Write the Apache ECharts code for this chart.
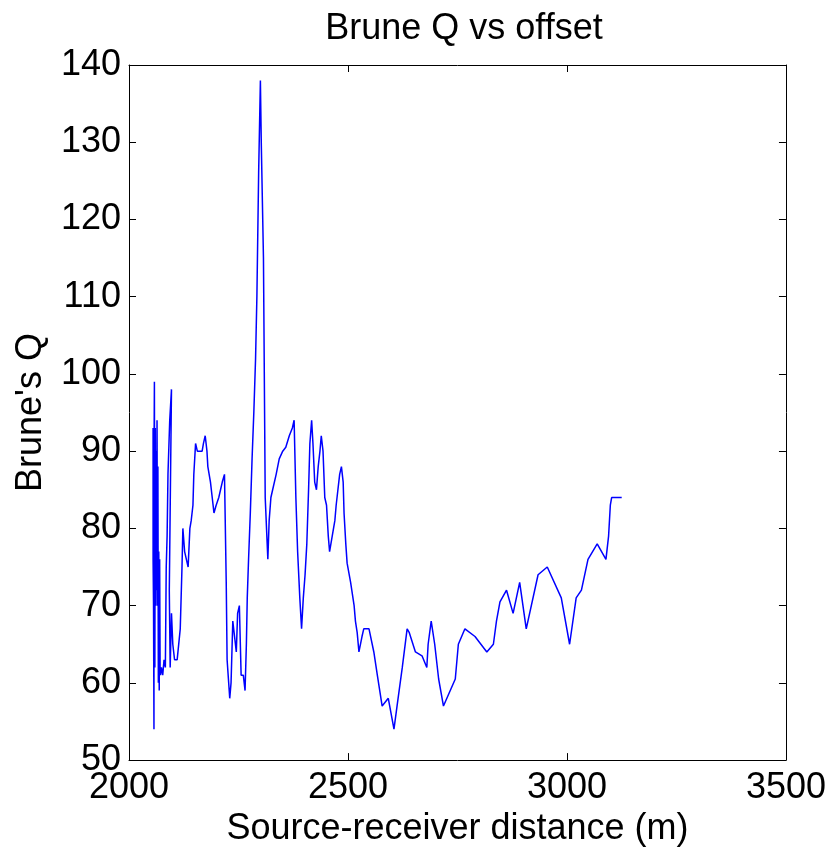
<!DOCTYPE html>
<html>
<head>
<meta charset="utf-8">
<script src="https://cdn.jsdelivr.net/npm/echarts@6/dist/echarts.min.js"></script>
<style>
html,body{margin:0;padding:0;background:#fff;}
#chart{width:829px;height:852px;}
</style>
</head>
<body>
<div id="chart"></div>
<script>
// Source-receiver distance (m), in drawing order
const offsets = [2055,2055,2056,2057,2057,2058,2059,2060,2061,2062,2063,2064,2065,2066,2067,2068,2069,2070,2071,2072,2074,2077,2080,2083,2085,2087,2089,2093,2097,2101,
  2092,2094,2097,2100,2104,2110,2117,2121,2123,2127,2131,2135,2139,2142,2146,2148,2152,2156,2160,2167,2170,2174,2178,2180,2186,2190,2194,2199,2205,2209,2213,2218,
  2222,2224,2230,2233,2237,2241,2245,2248,2252,2256,2261,2265,2268,2270,2273,2277,2281,2285,2289,2292,2296,2300,2302,2304,2307,2311,2317,2320,2324,2328,2336,2343,2351,2358,2366,2373,2377,
  2381,2385,2390,2394,2398,2402,2406,2410,2413,2417,2420,2424,2428,2432,2436,2439,2443,2447,2451,2455,2458,2464,2470,2473,2477,2481,2485,2489,2491,2495,2498,
  2506,2514,2517,2521,2525,2532,2536,2548,2559,2567,2578,2592,2605,2612,2624,2635,2640,2654,2669,2680,2683,2690,2698,2707,2718,2745,2752,2767,2771,2790,2817,
  2832,2839,2847,2862,2877,2892,2907,2934,2955,2987,3006,3021,3033,3048,3069,3089,3095,3099,3102,3125];
// Brune's Q
const qValues = [93,76,70,54,88,99,62,93,70,90,72,94,70,88,60,77,59,76,62,61,62,61,63,62,75,79,87,94,98,98,
  72,62,69,65,63,63,67,75,80,77,76,75,80,81,83,87,91,90,90,90,91,92,90,88,86,84,82,83,84,85,86,87,
  73,63,58,60,68,66,64,69,70,61,61,59,65,71,76,82,89,95,102,110,126,138,130,130,115,84,76,81,84,85,87,89,90,90.5,92,93,94,
  84,77,71,67,71,74,78,85,91,94,91,86,85,88,90,92,90,84,83,79,77,79,81,83,85,87,88,86,82,78,75.5,
  73,70,68,66.5,64,66,67,67,64,61,57,58,54,57,62,67,66.5,64,63.5,62,65,68,65,60.5,57,60.5,65,67,67,66,64,
  65,68,70.5,72,69,73,67,74,75,71,65,71,72,76,78,76,79,83,84,84];
const xTicks = [2000, 2500, 3000, 3500];
const yTicks = [50, 60, 70, 80, 90, 100, 110, 120, 130, 140];

const pts = offsets.map((x, i) => [x, qValues[i]]);
const FONT = 'Liberation Sans, Arial, Helvetica, sans-serif';
const chart = echarts.init(document.getElementById('chart'), null, {renderer: 'canvas'});
const axisCommon = {
  axisLine: {show: true, onZero: false, lineStyle: {color: '#000', width: 1}},
  axisTick: {show: true, inside: true, length: 7, lineStyle: {color: '#000', width: 1}},
  splitLine: {show: false}
};
chart.setOption({
  animation: false,
  backgroundColor: '#fff',
  title: {
    text: 'Brune Q vs offset', left: 459, textAlign: 'center', top: 6,
    textStyle: {fontFamily: FONT, fontSize: 36, fontWeight: 'normal', color: '#000'}
  },
  grid: {left: 129, right: 40, top: 65, bottom: 87, containLabel: false},
  xAxis: [
    Object.assign({
      type: 'value', min: xTicks[0], max: xTicks[xTicks.length - 1], interval: 500,
      name: 'Source-receiver distance (m)', nameLocation: 'middle', nameGap: 50,
      nameTextStyle: {fontFamily: FONT, fontSize: 36, color: '#000'},
      axisLabel: {fontFamily: FONT, fontSize: 36, color: '#000', margin: 10, formatter: v => String(v)}
    }, axisCommon),
    Object.assign({
      type: 'value', position: 'top', min: xTicks[0], max: xTicks[xTicks.length - 1], interval: 500,
      axisLabel: {show: false}
    }, axisCommon)
  ],
  yAxis: [
    Object.assign({
      type: 'value', min: yTicks[0], max: yTicks[yTicks.length - 1], interval: 10,
      name: "Brune's Q", nameLocation: 'middle', nameGap: 80,
      nameTextStyle: {fontFamily: FONT, fontSize: 36, color: '#000'},
      axisLabel: {fontFamily: FONT, fontSize: 36, color: '#000', margin: 8, formatter: v => String(v)}
    }, axisCommon),
    Object.assign({
      type: 'value', position: 'right', min: yTicks[0], max: yTicks[yTicks.length - 1], interval: 10,
      axisLabel: {show: false}
    }, axisCommon)
  ],
  series: [{
    type: 'line', data: pts, showSymbol: false, symbol: 'none',
    lineStyle: {color: '#0000ff', width: 1.5}, xAxisIndex: 0, yAxisIndex: 0
  }]
});
</script>
</body>
</html>
